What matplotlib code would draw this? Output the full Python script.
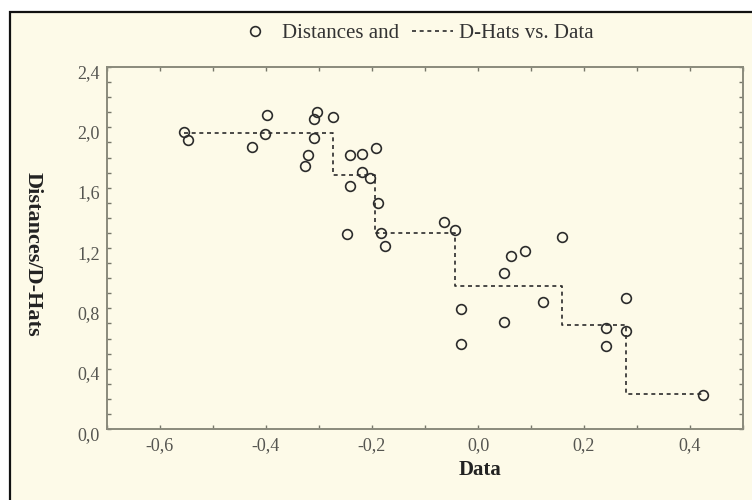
import matplotlib
matplotlib.use("Agg")
import matplotlib.pyplot as plt
from matplotlib.patches import Rectangle
from matplotlib.ticker import MultipleLocator, FuncFormatter
from matplotlib.transforms import ScaledTranslation

# observed points (Data, Distances)
data_x = [-0.554, -0.548, -0.399, -0.402, -0.426, -0.303, -0.309, -0.273, -0.309,
          -0.320, -0.327, -0.242, -0.219, -0.193, -0.218, -0.204, -0.241, -0.188,
          -0.247, -0.183, -0.175, -0.064, -0.043, 0.158, 0.062, 0.089, 0.049,
          -0.033, 0.122, 0.049, -0.033, 0.280, 0.241, 0.279, 0.241, 0.425]
distances = [1.971, 1.916, 2.082, 1.956, 1.872, 2.104, 2.054, 2.067, 1.932,
             1.815, 1.744, 1.817, 1.824, 1.861, 1.702, 1.662, 1.613, 1.501,
             1.295, 1.302, 1.216, 1.375, 1.320, 1.273, 1.147, 1.180, 1.036,
             0.794, 0.840, 0.712, 0.564, 0.871, 0.672, 0.648, 0.552, 0.227]

# D-hat step function
step_x = [-0.554, -0.274, -0.194, -0.043, 0.158, 0.279, 0.425]
step_y = [1.965, 1.684, 1.302, 0.948, 0.690, 0.232]

cream = "#fdfae8"
ink = "#2b2b2b"
grey = "#555550"

plt.rcParams["font.family"] = ["Liberation Serif", "DejaVu Serif"]

fig = plt.figure(figsize=(7.52, 5.0), dpi=100, facecolor="white")
fig.patches.append(Rectangle((10 / 752, -0.1), 1.2, 0.1 + (500 - 12) / 500,
                             transform=fig.transFigure, facecolor=cream,
                             edgecolor="#111111", linewidth=1.6, zorder=-10))

ax = fig.add_axes([107 / 752, (500 - 429) / 500, (743 - 107) / 752, (429 - 67) / 500])
ax.set_facecolor(cream)

ax.step(step_x, step_y + [step_y[-1]], where="post", color=ink, lw=1.2,
        linestyle=(0, (2.4, 2.2)), label="D-Hats vs. Data")
ax.plot(data_x, distances, "o", ms=7, mfc="none", mec=ink, mew=1.2,
        label="Distances and")

ax.set_xlim(-0.7, 0.5)
ax.set_ylim(0, 2.4)
ax.xaxis.set_major_locator(MultipleLocator(0.2))
ax.xaxis.set_minor_locator(MultipleLocator(0.1))
ax.yaxis.set_major_locator(MultipleLocator(0.4))
ax.yaxis.set_minor_locator(MultipleLocator(0.1))
fmt = FuncFormatter(lambda v, p: f"{v:.1f}".replace(".", ",").replace("-0,0", "0,0"))
ax.xaxis.set_major_formatter(fmt)
ax.yaxis.set_major_formatter(fmt)
ax.tick_params(which="both", direction="in", length=3, width=1, color="#77776a",
               top=True, right=True, labelsize=13, labelcolor=grey)
ax.tick_params(axis="x", pad=6)
ax.tick_params(axis="y", pad=5)
# y tick labels sit a little below their ticks in the original
shift = ScaledTranslation(0, -3 / 72, fig.dpi_scale_trans)
for lbl in ax.get_yticklabels():
    lbl.set_transform(lbl.get_transform() + shift)
for s in ax.spines.values():
    s.set_color("#8a8a7c")
    s.set_linewidth(1.4)

fig.text(480 / 752, 1 - 470 / 500, "Data", fontsize=15, fontweight="bold",
         color="#222222", ha="center", va="center")
fig.text(33 / 752, 1 - 254 / 500, "Distances/D-Hats", fontsize=16, fontweight="bold",
         color="#222222", rotation=270, ha="center", va="center")

h, l = ax.get_legend_handles_labels()
fig.legend(h[::-1], l[::-1], loc="center", bbox_to_anchor=(414 / 752, 1 - 33 / 500),
           ncol=2, frameon=False, fontsize=15, handlelength=2.0, columnspacing=0.6,
           handletextpad=0.3, labelcolor="#333333")

fig.savefig("out.png", dpi=100, facecolor=fig.get_facecolor())
